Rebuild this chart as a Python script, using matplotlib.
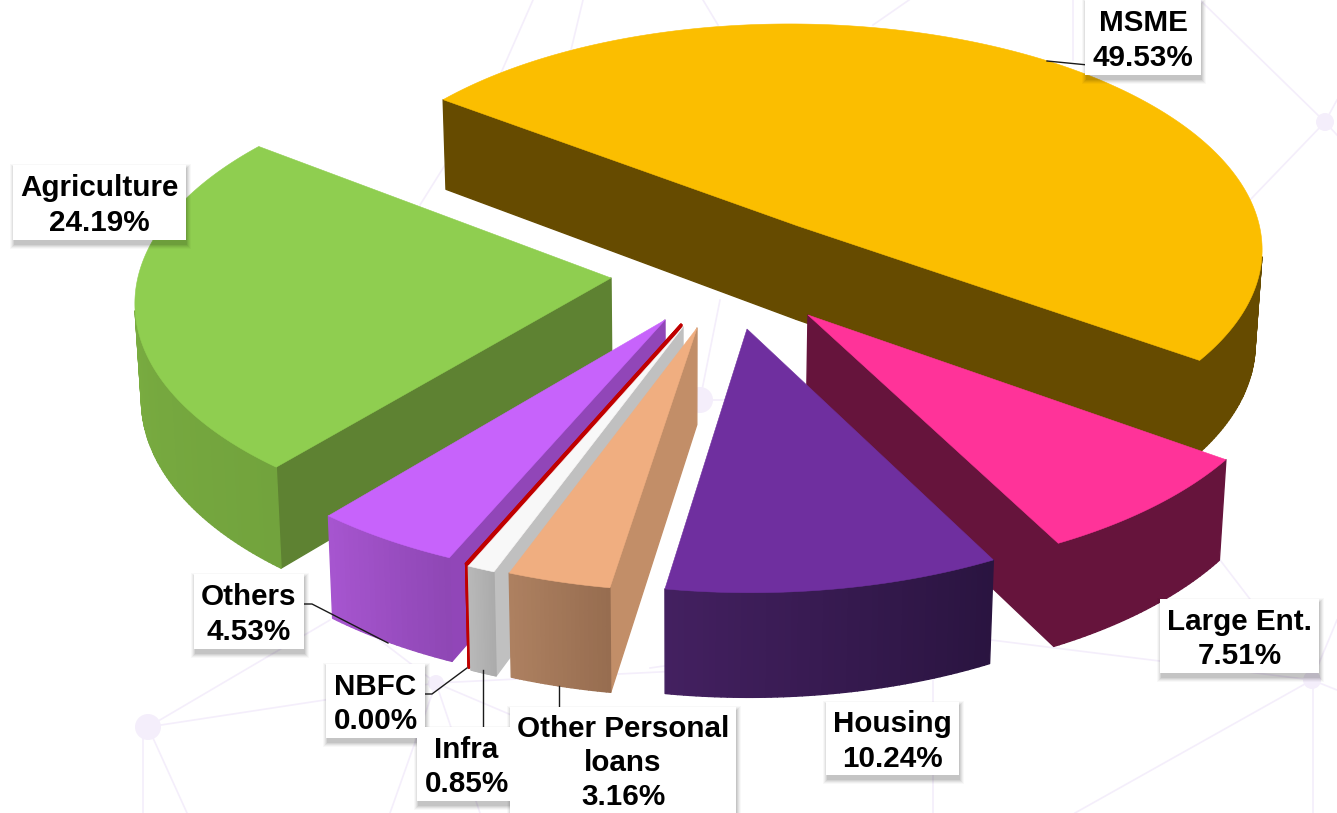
import numpy as np
import matplotlib
matplotlib.use("Agg")
import matplotlib.pyplot as plt
from matplotlib.collections import PolyCollection
from matplotlib.patches import Rectangle, Circle
from matplotlib.colors import to_rgb

# ---- data (clockwise from the MSME wedge) ----
categories = ["MSME", "Large Ent.", "Housing", "Other Personal\nloans", "Infra", "NBFC", "Others", "Agriculture"]
shares = [49.53, 7.51, 10.24, 3.16, 0.85, 0.00, 4.53, 24.19]
share_labels = ["49.53%", "7.51%", "10.24%", "3.16%", "0.85%", "0.00%", "4.53%", "24.19%"]

# ---- style ----
top_colors = ["#FBBE00", "#FF3399", "#6F2F9F", "#F0AE80", "#F8F8F8", "#C00000", "#C763FB", "#8FCE50"]
wall_colors = ["#664B00", "#66143C", "#3F1D5A", "#C28E68", "#C0C0C0", "#C00000", "#9146B8", "#5E8232"]
arc_colors = [("#664B00", "#664B00"), ("#66143C", "#66143C"), ("#2A1440", "#432060"),
              ("#976D50", "#AD8060"), ("#ABABAB", "#B8B8B8"), ("#C00000", "#C00000"),
              ("#8F47B5", "#A655CF"), ("#72A33D", "#80B544")]
draw_order = [0, 7, 1, 2, 6, 5, 4, 3]

# ---- projection and layout (pixels) ----
START_ANGLE = 145.0
X0, Y0 = 900.14, 308.81
A, B = 478.04, 235.0
K, H, S = 0.0928, 0.0022, 8.77
DEPTH, DEPTH_EXP = 96.0, 0.81
VANISH_X, SHRINK = 680.0, 0.012
apex_px = [(797.7, 225.9), (808, 315), (747, 329), (697, 328), (683, 327), (681, 325), (665, 320), (611, 278)]


def project(wx, wy, lower=False):
    w = 1.0 - K * wy - H * wx
    u, v = X0 + A * wx / w, Y0 + (B * wy + S * wx) / w
    if lower:
        u = VANISH_X + (u - VANISH_X) * (1.0 - SHRINK)
        v = v + DEPTH / w ** DEPTH_EXP
    return u, v


def unproject(u, v):
    a, q = (u - X0) / A, v - Y0
    w = 1.0 / (1.0 + K * (q - S * a) / B + H * a)
    return a * w, (q - S * a) * w / B


def mix(c1, c2, t):
    a, b = np.array(to_rgb(c1)), np.array(to_rgb(c2))
    return tuple(a + (b - a) * t)


fig = plt.figure(figsize=(13.37, 8.13), dpi=100, facecolor="white")
ax = fig.add_axes([0, 0, 1, 1])
ax.set_xlim(0, 1337)
ax.set_ylim(813, 0)
ax.axis("off")

# ---- faint network backdrop ----
NET = "#F4EEFB"
net_lines = [((148, 727), (436, 683)), ((148, 727), (330, 620)), ((143, 727), (143, 813)), ((148, 727), (187, 813)),
             ((436, 683), (390, 813)), ((436, 683), (480, 813)), ((436, 683), (700, 670)), ((436, 683), (360, 625)),
             ((436, 683), (735, 810)), ((1312, 680), (991, 640)), ((1312, 680), (1220, 560)), ((1312, 680), (1337, 690)),
             ((1312, 680), (1075, 813)), ((1313, 680), (1313, 813)), ((1312, 680), (1337, 620)), ((700, 400), (720, 300)),
             ((700, 400), (740, 400)), ((1325, 122), (1200, 0)), ((1325, 122), (1250, 200)), ((1325, 122), (1337, 100)),
             ((1325, 122), (1337, 135)), ((1073, 0), (1073, 60)), ((445, 165), (420, 205)), ((933, 680), (933, 813)),
             ((650, 668), (664, 666)), ((533, 0), (490, 98)), ((583, 0), (571, 50)), ((703, 0), (718, 25)), ((909, 0), (873, 25))]
for p, q in net_lines:
    ax.plot([p[0], q[0]], [p[1], q[1]], color=NET, lw=1.2, zorder=1)
for c, r in [((148, 727), 13), ((436, 683), 8), ((1312, 680), 9), ((700, 400), 13), ((1325, 122), 9)]:
    ax.add_patch(Circle(c, r, color=NET, lw=0, zorder=1))

# ---- wedges ----
sweeps = np.array(shares) / sum(shares) * 360.0
starts = START_ANGLE - np.concatenate([[0.0], np.cumsum(sweeps)[:-1]])
z = 2
for i in draw_order:
    ox, oy = unproject(*apex_px[i])
    n = 2 if sweeps[i] == 0 else max(24, int(sweeps[i] * 1.5))
    th = np.radians(np.linspace(starts[i], starts[i] - sweeps[i], n))
    wx = ox + np.cos(th)
    wy = oy - np.sin(th)
    # boundary traversal: apex -> arc -> apex
    bx = np.concatenate([[ox], wx])
    by = np.concatenate([[oy], wy])
    tu, tv = project(bx, by)
    du, dv = project(bx, by, True)
    polys, cols = [], []
    m = len(bx)
    for j in range(m):
        k = (j + 1) % m
        q = np.array([[tu[j], tv[j]], [tu[k], tv[k]], [du[k], dv[k]], [du[j], dv[j]]])
        xs, ys = q[:, 0], q[:, 1]
        area = np.sum(xs * np.roll(ys, -1) - np.roll(xs, -1) * ys)
        if area >= -1e-6 and sweeps[i] > 0:
            continue
        polys.append(q)
        if j == 0 or j == m - 1:
            cols.append(wall_colors[i])
        else:
            cols.append(mix(*arc_colors[i], (j - 1) / max(1, m - 3)))
    lw = 2.0 if sweeps[i] == 0 else 1.0
    pc = PolyCollection(polys, facecolors=cols, edgecolors=cols, linewidths=lw, zorder=z)
    ax.add_collection(pc)
    ax.fill(tu, tv, color=top_colors[i], lw=0.4, zorder=z + 1)
    if sweeps[i] == 0:
        ax.plot(tu[:2], tv[:2], color=top_colors[i], lw=2, zorder=z + 1)
    z += 2

# ---- leader lines ----
leaders = [[(1047, 61), (1088, 65)], [(300, 604), (312, 604), (388, 643)], [(420, 694), (432, 694), (467, 668)],
           [(483, 670), (483, 730)], [(559, 686), (559, 710)]]
for path in leaders:
    ax.plot(*zip(*path), color="#1A1A1A", lw=1.0, zorder=30)

# ---- labels: box x0, x1, y0, y1 ----
boxes = {0: (1085, 1201, 0, 75), 1: (1160, 1319, 599, 673), 2: (826, 959, 702, 775), 3: (510, 736, 707, 830),
         4: (417, 516, 727, 801), 5: (326, 425, 664, 738), 6: (194, 304, 574, 649), 7: (13, 186, 165, 240)}
for i, (x0, x1, y0, y1) in boxes.items():
    for off, alpha in [(6, 0.05), (5, 0.07), (4, 0.09), (3, 0.11), (2, 0.13)]:
        ax.add_patch(Rectangle((x0 - off + 3, y0 + 3 - off + 2), x1 - x0 + 2 * off - 4, y1 - y0 + 2 * off - 2,
                               fc="black", ec="none", alpha=alpha * 0.55, zorder=40))
    ax.add_patch(Rectangle((x0, y0), x1 - x0, y1 - y0, fc="white", ec="none", zorder=41))
    ax.text((x0 + x1) / 2, (y0 + min(y1, 813)) / 2 + 3,
            categories[i] + "\n" + share_labels[i], ha="center", va="center", multialignment="center",
            family="Liberation Sans", weight="bold", fontsize=21.3, linespacing=1.28, color="black", zorder=42)

fig.savefig("out.png", dpi=100)
